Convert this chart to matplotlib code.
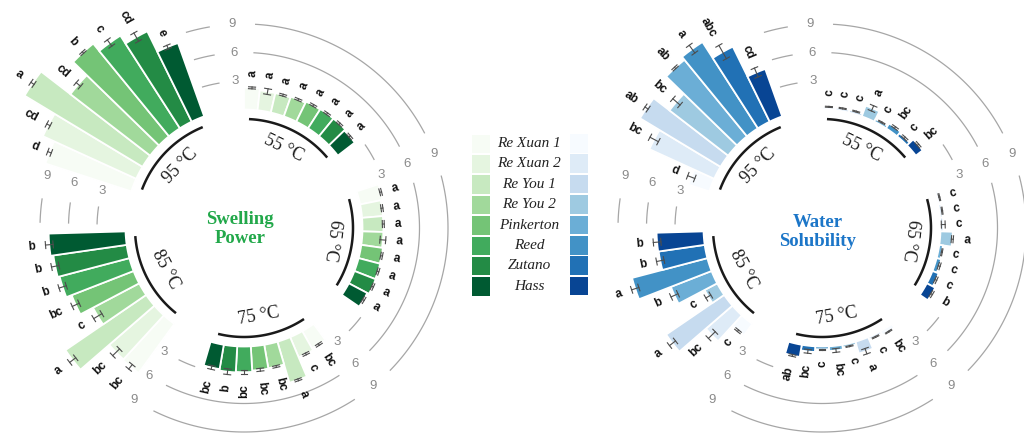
import numpy as np
import matplotlib
matplotlib.use("Agg")
import matplotlib.pyplot as plt
from matplotlib.patches import Rectangle

# ---------------- data ----------------
cultivars = ["Re Xuan 1", "Re Xuan 2", "Re You 1", "Re You 2",
             "Pinkerton", "Reed", "Zutano", "Hass"]
temps = ["55 °C", "65 °C", "75 °C", "85 °C", "95 °C"]

greens = ["#f7fcf5", "#e5f5e0", "#c7e9c0", "#a1d99b",
          "#74c476", "#41ab5d", "#238b45", "#005a32"]
blues = ["#f7fbff", "#deebf7", "#c6dbef", "#9ecae1",
         "#6baed6", "#4292c6", "#2171b5", "#084594"]

# Swelling power (g/g), cultivar order as above
sp_55 = [2.3, 2.1, 2.1, 2.2, 2.35, 2.4, 2.4, 2.25]
sp_65 = [2.4, 2.2, 2.2, 2.2, 2.3, 2.35, 2.4, 2.2]
sp_75 = [2.1, 2.3, 4.5, 2.5, 2.55, 2.7, 2.75, 2.6]
sp_85 = [6.4, 6.3, 10.3, 5.5, 7.0, 7.6, 7.8, 8.1]
sp_95 = [9.5, 10.8, 14.5, 10.6, 12.6, 11.6, 10.6, 8.2]
sp_err_55 = [0.1, 0.3, 0.1, 0.1, 0.1, 0.1, 0.1, 0.1]
sp_err_65 = [0.1, 0.1, 0.1, 0.3, 0.1, 0.1, 0.1, 0.1]
sp_err_75 = [0.1, 0.1, 0.1, 0.1, 0.15, 0.2, 0.3, 0.2]
sp_err_85 = [0.3, 0.5, 0.4, 0.5, 0.4, 0.4, 0.4, 0.4]
sp_err_95 = [0.2, 0.2, 0.2, 0.3, 0.1, 0.4, 0.5, 0.2]
sp_sig_55 = ["a"] * 8
sp_sig_65 = ["a"] * 8
sp_sig_75 = ["bc", "c", "a", "bc", "bc", "bc", "b", "bc"]
sp_sig_85 = ["bc", "bc", "a", "c", "bc", "b", "b", "b"]
sp_sig_95 = ["d", "cd", "a", "cd", "b", "c", "cd", "e"]

# Water solubility (%), cultivar order as above
ws_55 = [0.3, 0.3, 0.3, 1.2, 0.3, 0.6, 0.4, 0.9]
ws_65 = [0.3, 0.3, 0.3, 1.3, 0.4, 0.5, 0.7, 1.0]
ws_75 = [0.5, 0.3, 1.3, 0.3, 0.5, 0.3, 0.6, 1.3]
ws_85 = [1.5, 3.7, 7.4, 1.5, 4.6, 8.2, 4.9, 4.95]
ws_95 = [2.3, 7.5, 9.9, 7.8, 10.4, 10.8, 8.8, 5.3]
ws_err_55 = [0.05, 0.05, 0.05, 0.3, 0.05, 0.1, 0.1, 0.1]
ws_err_65 = [0.05, 0.05, 0.2, 0.1, 0.05, 0.1, 0.1, 0.1]
ws_err_75 = [0.05, 0.05, 0.3, 0.05, 0.2, 0.05, 0.2, 0.1]
ws_err_85 = [0.1, 0.5, 0.4, 0.3, 0.4, 0.4, 0.4, 0.4]
ws_err_95 = [0.4, 0.5, 0.2, 0.5, 0.1, 0.5, 0.8, 0.5]
ws_sig_55 = ["c", "c", "c", "a", "c", "bc", "c", "bc"]
ws_sig_65 = ["c", "c", "c", "a", "c", "c", "c", "b"]
ws_sig_75 = ["bc", "c", "a", "c", "bc", "c", "bc", "ab"]
ws_sig_85 = ["c", "bc", "a", "c", "b", "a", "b", "b"]
ws_sig_95 = ["d", "bc", "ab", "bc", "ab", "a", "abc", "cd"]

grid_values = [3, 6, 9]

# ---------------- layout ----------------
W, H = 1024, 437
SCALE = 9.5          # pixels per unit of value
R0 = 118.5           # pixel radius of the value 0
RMAX = 16.0
NSLOT = 11           # 8 bars + 3 empty slots per temperature
SLOT = 2 * np.pi / (5 * NSLOT)

fig = plt.figure(figsize=(W / 100, H / 100), dpi=100)
fig.patch.set_facecolor("white")


def slot_theta(g, k):
    return (g * NSLOT + k + 0.5) * SLOT


def make_polar(cx, cy):
    rorig = -R0 / SCALE
    rad = (RMAX - rorig) * SCALE
    ax = fig.add_axes([(cx - rad) / W, (H - cy - rad) / H, 2 * rad / W, 2 * rad / H],
                      projection="polar")
    ax.set_theta_zero_location("N")
    ax.set_theta_direction(-1)
    ax.set_ylim(0, RMAX)
    ax.set_rorigin(rorig)
    ax.set_axis_off()
    return ax


def draw_chart(ax, values, errors, sigs, colors):
    # partial circular grid lines with value labels in the gaps
    for g in range(5):
        for v in grid_values:
            if v > 3 and g < 3:
                t = np.linspace(slot_theta(g, 0), slot_theta(g, 9), 80)
            else:
                t = np.linspace(slot_theta(g, 8), slot_theta(g, 9), 10)
            ax.plot(t, np.full_like(t, v), color="#a6a6a6", lw=0.9,
                    clip_on=False, zorder=1)
            ax.text(slot_theta(g, 10), v, str(v), color="#8a8a8a",
                    fontsize=9.5, family="Liberation Sans",
                    ha="center", va="center", zorder=3)

    for g in range(5):
        th = np.array([slot_theta(g, k) for k in range(8)])
        vals = np.array(values[g])
        errs = np.array(errors[g])
        ax.bar(th, vals, width=SLOT, bottom=0, color=colors,
               edgecolor="white", linewidth=1.3, clip_on=False, zorder=2)

        # error bars with tangential caps
        for t, v, e in zip(th, vals, errs):
            lo, hi = v - e, v + e
            ax.plot([t, t], [lo, hi], color="#4d4d4d", lw=0.8,
                    clip_on=False, zorder=4)
            for rr in (lo, hi):
                dt = 3.5 / (R0 + SCALE * rr)
                ax.plot([t - dt, t + dt], [rr, rr], color="#4d4d4d", lw=0.8,
                        clip_on=False, zorder=4)

        # significance letters, oriented along the radius
        for t, v, e, s in zip(th, vals, errs, sigs[g]):
            deg = np.degrees(t)
            if deg < 180:
                rot, ha = 90 - deg, "left"
            else:
                rot, ha = 270 - deg, "right"
            ax.text(t, v + e + 1.1, s, rotation=rot, rotation_mode="anchor",
                    ha=ha, va="center", fontsize=8.5, fontweight="bold",
                    family="Liberation Sans", color="#111111", zorder=5)

        # temperature arc and label
        ta = np.linspace(slot_theta(g, 0), slot_theta(g, 7), 60)
        ax.plot(ta, np.full_like(ta, -1.0), color="#1a1a1a", lw=1.8,
                clip_on=False, zorder=3)
        tc = (g * NSLOT + 4) * SLOT
        dc = np.degrees(tc)
        rot = -dc if (dc < 120 or dc > 270) else 180 - dc
        ax.text(tc, -3.1, temps[g], rotation=rot, rotation_mode="anchor",
                ha="center", va="center", fontsize=13,
                family="Liberation Serif", color="#1a1a1a", zorder=5)


ax_sp = make_polar(244, 228)
draw_chart(ax_sp,
           [sp_55, sp_65, sp_75, sp_85, sp_95],
           [sp_err_55, sp_err_65, sp_err_75, sp_err_85, sp_err_95],
           [sp_sig_55, sp_sig_65, sp_sig_75, sp_sig_85, sp_sig_95],
           greens)

ax_ws = make_polar(822, 228)
draw_chart(ax_ws,
           [ws_55, ws_65, ws_75, ws_85, ws_95],
           [ws_err_55, ws_err_65, ws_err_75, ws_err_85, ws_err_95],
           [ws_sig_55, ws_sig_65, ws_sig_75, ws_sig_85, ws_sig_95],
           blues)

# ---------------- centre titles and shared legend ----------------
lax = fig.add_axes([0, 0, 1, 1])
lax.set_xlim(0, W)
lax.set_ylim(H, 0)
lax.set_axis_off()
lax.patch.set_alpha(0)

lax.text(240, 229, "Swelling\nPower", ha="center", va="center",
         fontsize=13.5, fontweight="bold", family="Liberation Serif",
         color="#22a84a", linespacing=1.2)
lax.text(818, 232, "Water\nSolubility", ha="center", va="center",
         fontsize=13.5, fontweight="bold", family="Liberation Serif",
         color="#1c76c8", linespacing=1.2)

for i, name in enumerate(cultivars):
    y = 143.5 + i * 20.4
    lax.add_patch(Rectangle((472, y - 9), 18, 18.5, facecolor=greens[i],
                            edgecolor="none"))
    lax.add_patch(Rectangle((570, y - 9.5), 18, 18.5, facecolor=blues[i],
                            edgecolor="none"))
    lax.text(529, y, name, ha="center", va="center", fontsize=11,
             style="italic", family="Liberation Serif", color="#222222")

fig.savefig("out.png", dpi=100, facecolor="white")
